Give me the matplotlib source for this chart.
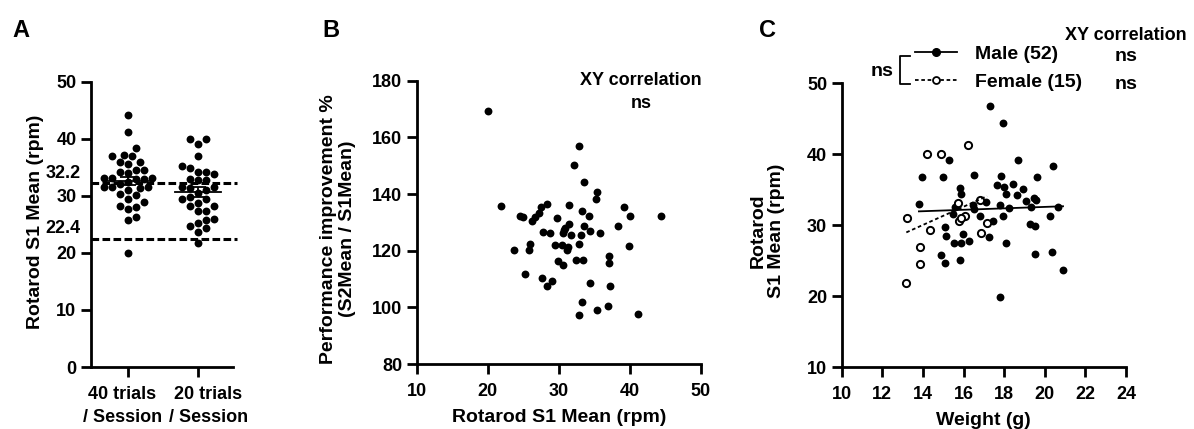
import numpy as np
import matplotlib.pyplot as plt
from matplotlib.lines import Line2D
from matplotlib.transforms import ScaledTranslation

plt.rcParams['font.family'] = ['Liberation Sans', 'DejaVu Sans']
plt.rcParams['font.weight'] = 'bold'
plt.rcParams['axes.labelweight'] = 'bold'
plt.rcParams['font.size'] = 13
plt.rcParams['axes.labelsize'] = 14
plt.rcParams['axes.linewidth'] = 2
plt.rcParams['xtick.major.width'] = 2
plt.rcParams['ytick.major.width'] = 2
plt.rcParams['xtick.major.size'] = 7
plt.rcParams['ytick.major.size'] = 7
plt.rcParams['xtick.major.pad'] = 7

# A: Rotarod S1 mean, two protocols
groups_a = ['40 trials\n/ Session', '20 trials\n/ Session']
s1_40 = [44.2, 41.2, 38.3, 36.9, 37.2, 36.9, 35.9, 35.9, 35.6, 34.6, 34.5, 34.2,
         34.0, 33.2, 33.0, 33.2, 33.2, 33.0, 32.5, 32.0, 31.4, 31.5, 31.5, 31.5,
         31.0, 30.4, 30.1, 29.5, 29.0, 28.3, 28.0, 27.7, 26.3, 25.8, 20.0]
s1_20 = [40.0, 40.0, 39.1, 36.9, 35.3, 34.8, 34.2, 33.9, 34.2, 33.0, 32.7, 32.7,
         31.5, 31.3, 31.5, 31.0, 30.5, 29.5, 29.8, 29.5, 28.8, 28.3, 28.3, 27.3,
         27.3, 26.0, 25.8, 24.8, 24.3, 25.2, 23.7, 21.8]
ref_lines = [32.2, 22.4]

# B: S1 mean vs performance improvement
b_s1 = [20.1, 32.8, 32.2, 33.6, 35.4, 35.3, 21.8, 28.3, 27.5, 31.5, 39.2, 24.6,
        25.0, 27.2, 26.7, 26.2, 33.2, 34.2, 29.7, 40.0, 44.4, 31.4, 30.9, 33.6,
        34.4, 38.4, 27.8, 28.7, 30.6, 31.7, 33.1, 35.8, 25.9, 25.8, 23.7, 29.5,
        30.4, 31.3, 31.1, 32.8, 39.9, 29.9, 30.6, 32.4, 33.4, 37.0, 37.0, 25.3,
        27.7, 29.0, 28.4, 34.4, 37.2, 33.2, 35.4, 36.9, 32.8, 41.2, 30.8]
b_improve = [169.4, 157.1, 150.2, 144.2, 140.8, 138.4, 135.7, 136.5, 135.4, 136.3,
             135.5, 132.1, 131.8, 133.2, 131.8, 130.4, 134.1, 132.4, 131.4, 132.1,
             132.1, 129.4, 128.0, 128.8, 127.1, 128.6, 126.5, 126.2, 126.4, 125.5,
             125.5, 126.2, 122.3, 120.3, 120.3, 122.1, 122.1, 121.5, 120.1, 122.3,
             121.8, 116.4, 114.8, 116.8, 116.8, 118.0, 115.6, 111.7, 110.3, 109.4,
             107.7, 108.6, 107.4, 102.0, 99.0, 100.6, 97.2, 97.6, 127.4]

# C: body weight vs S1 mean by sex
male_w = [17.29, 17.94, 15.26, 18.68, 20.41, 13.93, 14.98, 16.50, 17.83, 19.64,
          17.66, 17.99, 18.44, 18.93, 15.81, 15.89, 18.08, 18.65, 19.10, 19.46,
          19.59, 13.80, 17.09, 17.78, 19.34, 20.66, 15.56, 16.46, 16.51, 18.24,
          16.79, 17.96, 15.48, 20.25, 17.45, 19.26, 19.51, 15.10, 15.15, 15.97,
          16.27, 15.51, 15.89, 17.24, 18.11, 14.90, 15.07, 15.84, 19.51, 20.36,
          20.90, 17.78]
male_s1 = [46.7, 44.3, 39.2, 39.1, 38.3, 36.8, 36.8, 37.1, 36.9, 36.8,
           35.7, 35.3, 35.8, 35.1, 35.2, 34.4, 34.3, 34.2, 33.4, 33.8,
           33.5, 33.0, 33.3, 32.8, 32.6, 32.6, 32.5, 32.8, 32.2, 32.4,
           31.2, 31.2, 31.6, 31.3, 30.6, 30.1, 29.9, 29.7, 28.4, 28.7,
           27.8, 27.4, 27.4, 28.3, 27.5, 25.8, 24.6, 25.1, 25.9, 26.2,
           23.7, 19.9]
female_w = [14.19, 14.87, 16.22, 13.22, 15.72, 16.82, 15.77, 16.05, 15.89, 14.36,
            17.16, 16.88, 13.83, 13.86, 13.18]
female_s1 = [40.0, 40.0, 41.3, 31.0, 33.1, 33.5, 30.5, 31.2, 31.0, 29.3,
             30.3, 28.9, 26.9, 24.5, 21.8]


def swarm_offsets(vals, px_x, px_y, gap=8.0, step=4.0):
    # simple beeswarm: offsets in data units along x
    vals = np.asarray(vals)
    offs = np.zeros(len(vals))
    placed = []
    for i in np.argsort(vals):
        y = vals[i] * px_y
        k = 0
        while True:
            cand = [0] if k == 0 else [k * step, -k * step]
            ok = None
            for dx in cand:
                if all(np.hypot(dx - px, y - py) >= gap for px, py in placed):
                    ok = dx
                    break
            if ok is not None:
                placed.append((ok, y))
                offs[i] = ok / px_x
                break
            k += 1
    return offs


fig = plt.figure(figsize=(11.94, 4.29), dpi=100)

# ---------- A ----------
axA = fig.add_axes([0.0762, 0.1445, 0.119, 0.665])
axA.set_xlim(-0.53, 1.5)
axA.set_ylim(0, 50)
for i, vals in enumerate([s1_40, s1_20]):
    off = swarm_offsets(vals, 70, 5.7)
    axA.scatter(i + off, vals, s=32, color='k', zorder=3, linewidths=0)
    m = np.mean(vals)
    sem = np.std(vals, ddof=1) / np.sqrt(len(vals))
    axA.plot([i - 0.33, i + 0.33], [m, m], color='k', lw=1.3, zorder=4)
    axA.errorbar(i, m, yerr=sem, color='k', lw=1.3, capsize=6, capthick=1.3, zorder=4)
for v in ref_lines:
    axA.plot([-0.53, 1.55], [v, v], color='k', lw=2.2, ls=(0, (2.5, 1.1)),
             clip_on=False, zorder=5)
    axA.text(-0.075, v + 0.3, f'{v}', transform=axA.get_yaxis_transform(),
             ha='right', va='bottom')
axA.set_xticks([0, 1])
axA.set_xticklabels(groups_a, linespacing=1.45)
for lab, dx in zip(axA.get_xticklabels(), [-6, 10]):
    lab.set_transform(lab.get_transform() + ScaledTranslation(dx / 100, 0, fig.dpi_scale_trans))
axA.set_yticks(range(0, 51, 10))
axA.set_ylabel('Rotarod S1 Mean (rpm)')
axA.yaxis.set_label_coords(-0.33, 0.51)
for s in ['top', 'right']:
    axA.spines[s].set_visible(False)

# ---------- B ----------
axB = fig.add_axes([0.349, 0.1515, 0.238, 0.660])
axB.scatter(b_s1, b_improve, s=32, color='k', linewidths=0)
axB.set_xlim(10, 50)
axB.set_ylim(80, 180)
axB.set_xticks(range(10, 51, 10))
axB.set_yticks(range(80, 181, 20))
axB.set_xlabel('Rotarod S1 Mean (rpm)', labelpad=6)
axB.set_ylabel('Performance improvement %\n(S2Mean / S1Mean)', linespacing=1.1)
axB.yaxis.set_label_coords(-0.215, 0.477)
axB.text(0.79, 1.03, 'XY correlation\nns', transform=axB.transAxes,
         ha='center', va='top', linespacing=1.4)
for s in ['top', 'right']:
    axB.spines[s].set_visible(False)

# ---------- C ----------
axC = fig.add_axes([0.705, 0.1445, 0.238, 0.662])
axC.scatter(male_w, male_s1, s=32, color='k', linewidths=0, zorder=3)
axC.scatter(female_w, female_s1, s=27, facecolor='white', edgecolor='k',
            linewidths=1.4, zorder=3)
for w, v, ls in [(male_w, male_s1, '-'), (female_w, female_s1, (0, (2, 1.5)))]:
    p = np.polyfit(w, v, 1)
    xx = np.array([min(w), max(w)])
    axC.plot(xx, np.polyval(p, xx), color='k', lw=1.3, ls=ls, zorder=4)
axC.set_xlim(10, 24)
axC.set_ylim(10, 50)
axC.set_xticks(range(10, 25, 2))
axC.set_yticks(range(10, 51, 10))
axC.set_xlabel('Weight (g)', labelpad=6)
axC.set_ylabel('Rotarod\nS1 Mean (rpm)', linespacing=1.1)
axC.yaxis.set_label_coords(-0.20, 0.48)
for s in ['top', 'right']:
    axC.spines[s].set_visible(False)

handles = [Line2D([], [], color='k', lw=1.3, marker='o', ms=5.5),
           Line2D([], [], color='k', lw=1.3, ls=(0, (2, 1.5)), marker='o', ms=5,
                  mfc='white', mew=1.3)]
fig.legend(handles, ['Male (52)', 'Female (15)'], loc='upper left',
           bbox_to_anchor=(0.766, 0.895), frameon=False, handlelength=2.2,
           handletextpad=0.9, labelspacing=0.55, borderpad=0, borderaxespad=0,
           fontsize=14)
fig.text(0.943, 0.918, 'XY correlation', ha='center', va='center')
fig.text(0.943, 0.869, 'ns', ha='center', va='center', fontsize=14)
fig.text(0.943, 0.804, 'ns', ha='center', va='center', fontsize=14)
fig.text(0.739, 0.834, 'ns', ha='center', va='center', fontsize=14)
fig.add_artist(Line2D([0.762, 0.754, 0.754, 0.762], [0.869, 0.869, 0.804, 0.804],
                      color='k', lw=1.3, transform=fig.transFigure))

fig.text(0.010, 0.93, 'A', fontsize=17, va='center')
fig.text(0.270, 0.93, 'B', fontsize=17, va='center')
fig.text(0.636, 0.93, 'C', fontsize=17, va='center')

fig.savefig('out.png', dpi=100)
